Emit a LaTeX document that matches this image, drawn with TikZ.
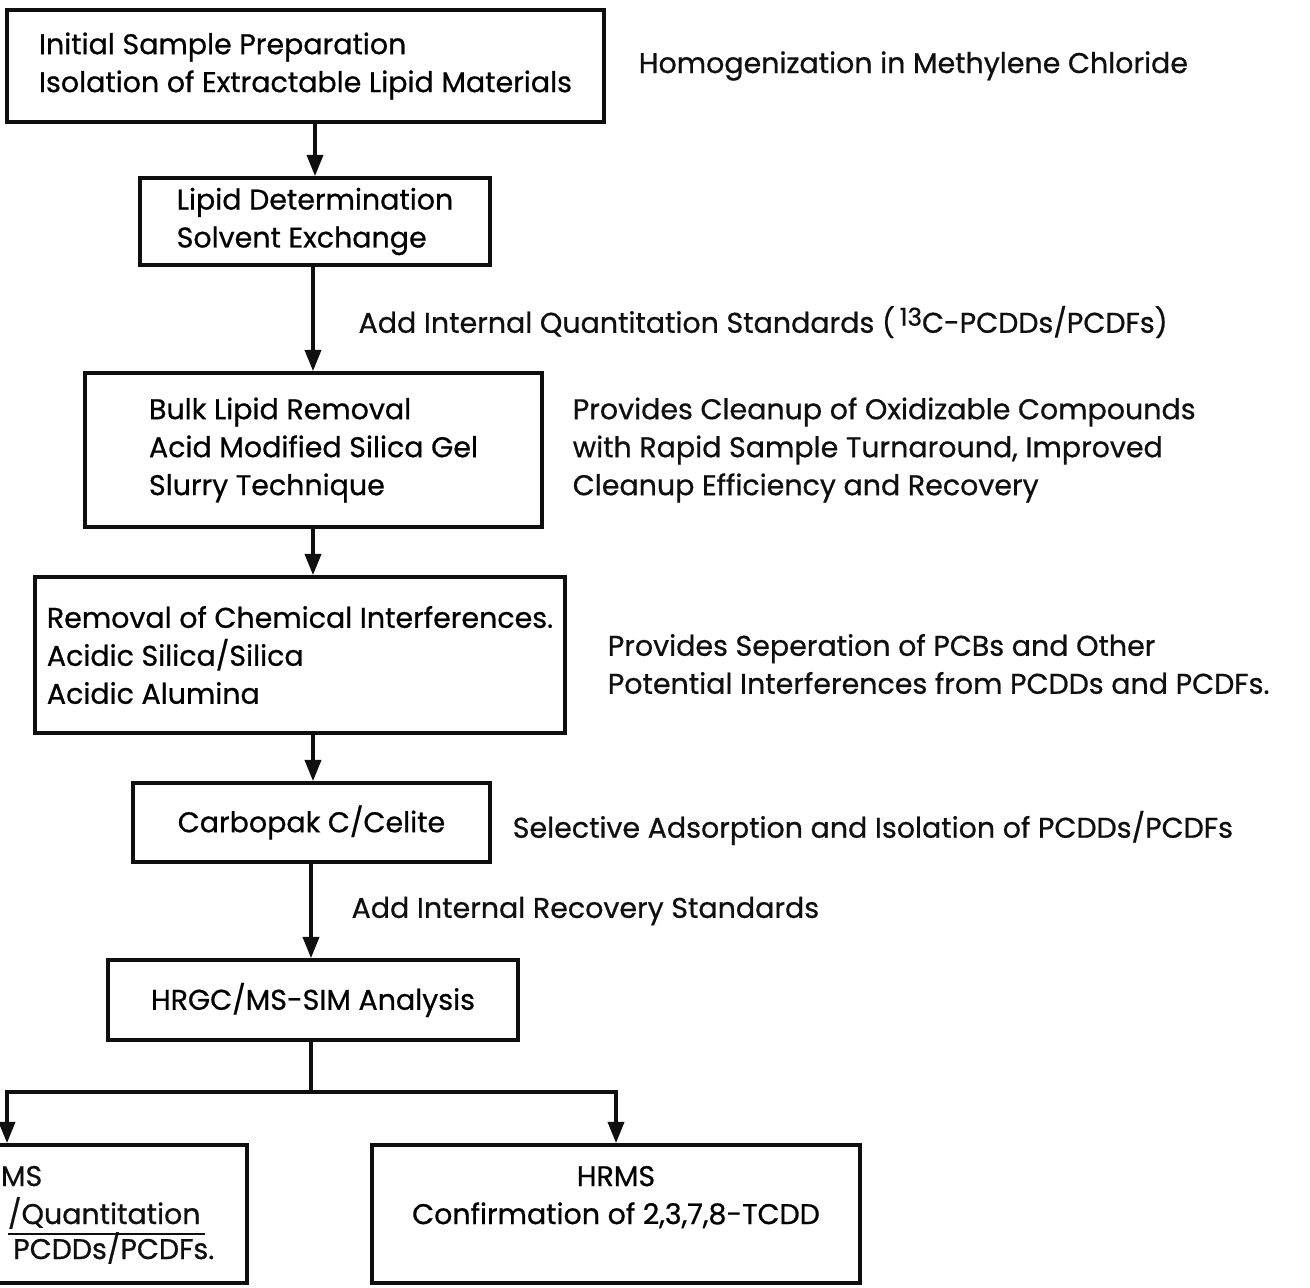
\documentclass[tikz,border=0pt]{standalone}
\usepackage{fontspec}
\setmainfont{Poppins}[FakeBold=0.7]
\usepackage{tikz}
\usetikzlibrary{arrows.meta, positioning}
\definecolor{mydark}{RGB}{15,15,15}
\newcommand{\flowfont}{\fontsize{8.1}{10.8}\selectfont}
\tikzset{
  stepbox/.style={rectangle, draw=mydark, line width=1.1pt,
    font=\flowfont, align=left, inner sep=0pt},
  note/.style={font=\flowfont, align=left, inner sep=0pt, text=mydark},
  arrow/.style={-{Triangle[width=4.6pt,length=6pt]}, line width=0.9pt, color=mydark},
  line/.style={line width=0.9pt, color=mydark}
}

\begin{document}
\begin{tikzpicture}[x=0.01cm, y=-0.01cm]
  \useasboundingbox (0,0) rectangle (1310,1287);
  \clip (0,0) rectangle (1310,1287);

  % --- Main column ---
  \node[stepbox, minimum width=5.97cm, minimum height=1.12cm] (prep) at (305.5,66)
    {Initial Sample Preparation\\Isolation of Extractable Lipid Materials};
  \node[stepbox, minimum width=3.50cm, minimum height=0.87cm] (lipid) at (315,221.5)
    {Lipid Determination\\Solvent Exchange};
  \node[stepbox, minimum width=4.57cm, minimum height=1.54cm] (bulk) at (313.5,450)
    {Bulk Lipid Removal\\Acid Modified Silica Gel\\Slurry Technique};
  \node[stepbox, minimum width=5.30cm, minimum height=1.56cm] (interf) at (300,655)
    {Removal of Chemical Interferences.\\Acidic Silica/Silica\\Acidic Alumina};
  \node[stepbox, minimum width=3.57cm, minimum height=0.79cm] (carbo) at (311.5,822.5)
    {Carbopak C/Celite};
  \node[stepbox, minimum width=4.10cm, minimum height=0.80cm] (hrgc) at (313,1000)
    {HRGC/MS-SIM Analysis};

  % --- Side notes ---
  \node[note, right=0.32cm of prep] (homog) {Homogenization in Methylene Chloride};
  \node[note, right=0.28cm of bulk] (cleanup)
    {Provides Cleanup of Oxidizable Compounds\\with Rapid Sample Turnaround, Improved\\Cleanup Efficiency and Recovery};
  \node[note, right=0.40cm of interf, yshift=-0.09cm] (separ)
    {Provides Seperation of PCBs and Other\\Potential Interferences from PCDDs and PCDFs.};
  \node[note, right=0.20cm of carbo, yshift=-0.055cm] (selec)
    {Selective Adsorption and Isolation of PCDDs/PCDFs};

  % --- Arrows down the column ---
  \draw[arrow] (prep.south -| lipid.north) -- (lipid.north);
  \draw[arrow] (lipid.south -| 313,0) -- node[note, anchor=west, xshift=0.44cm, yshift=-0.03cm] (addquant)
    {Add Internal Quantitation Standards (\,\raisebox{0.45ex}{\fontsize{7}{8}\selectfont 13}C-PCDDs/PCDFs)} (bulk.north -| 313,0);
  \draw[arrow] (bulk.south -| 313,0) -- (interf.north -| 313,0);
  \draw[arrow] (interf.south -| 313,0) -- (carbo.north -| 313,0);
  \draw[arrow] (carbo.south -| 311,0) -- node[note, anchor=west, xshift=0.39cm] (addrec)
    {Add Internal Recovery Standards} (hrgc.north -| 311,0);

  % --- Final split ---
  \node[stepbox, align=center, minimum width=4.80cm, minimum height=1.38cm] (lrms) at (7,1214) {};
  \node[stepbox, align=center, minimum width=4.88cm, minimum height=1.38cm] (hrms) at (616,1214)
    {HRMS\\Confirmation of 2,3,7,8-TCDD\\~};
  \node[note, anchor=base east] (lrmsA) at (43,1186) {MS};
  \node[note, anchor=base east] (lrmsB) at (206,1224) {\underline{/Quantitation\,}};
  \node[note, anchor=base east] (lrmsC) at (215,1259) {PCDDs/PCDFs.};

  \coordinate (split) at (311,1092);
  \draw[line] (hrgc.south -| split) -- (split);
  \draw[arrow] (split) -| (lrms.north);
  \draw[arrow] (split) -| (hrms.north);
\end{tikzpicture}
\end{document}
